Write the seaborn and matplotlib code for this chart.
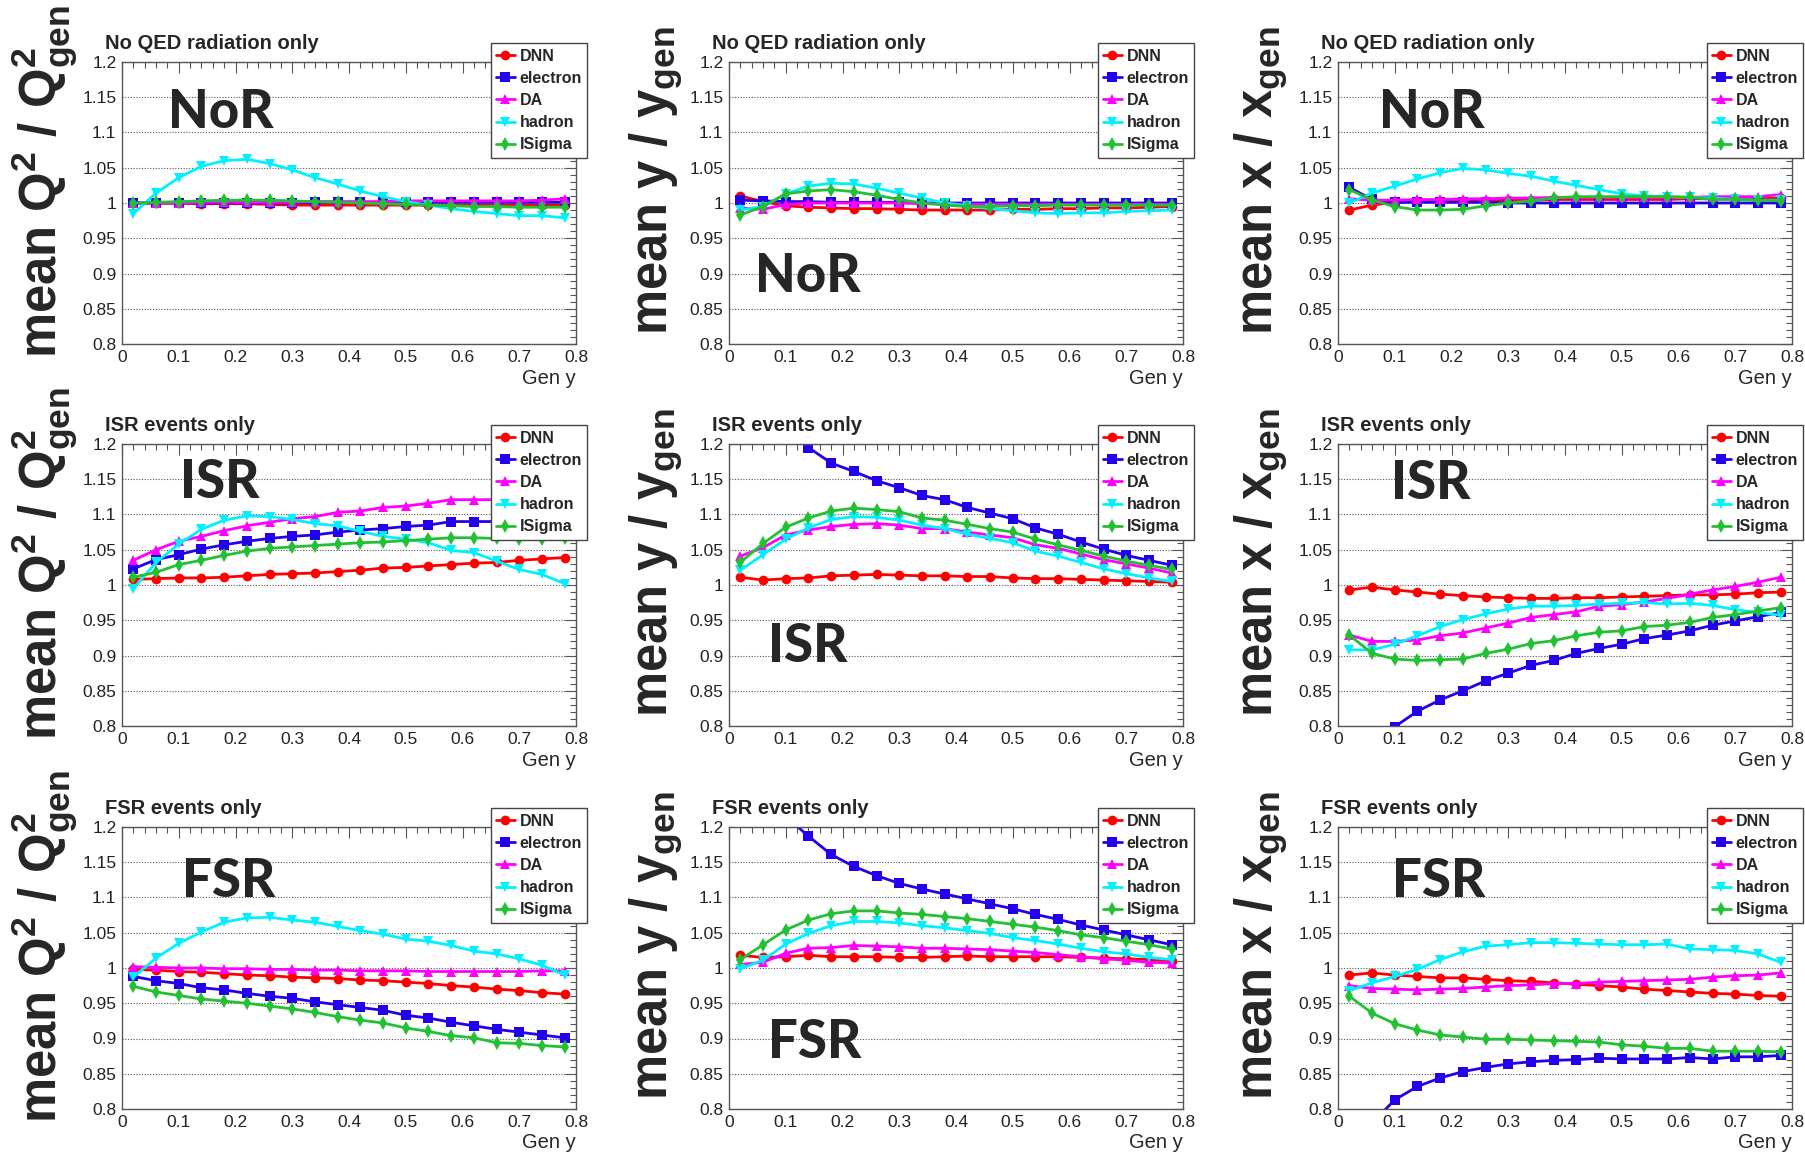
import matplotlib
matplotlib.use("Agg")
import matplotlib.pyplot as plt
import pandas as pd
import seaborn as sns
from matplotlib.lines import Line2D
from matplotlib.ticker import MultipleLocator, FuncFormatter

sns.set_theme(style="white")
plt.rcParams['font.family'] = ['Liberation Sans', 'DejaVu Sans']
plt.rcParams['mathtext.fontset'] = 'custom'
plt.rcParams['mathtext.rm'] = 'Liberation Sans:bold'
plt.rcParams['mathtext.it'] = 'Liberation Sans:bold'
plt.rcParams['mathtext.bf'] = 'Liberation Sans:bold'

# bin centres of generated y
gen_y = [0.02, 0.06, 0.10, 0.14, 0.18, 0.22, 0.26, 0.30, 0.34, 0.38,
         0.42, 0.46, 0.50, 0.54, 0.58, 0.62, 0.66, 0.70, 0.74, 0.78]

methods = ["DNN", "electron", "DA", "hadron", "ISigma"]
colors = ["#ff0000", "#2200ee", "#ff00ff", "#00f0ff", "#22c033"]
markers = ["o", "s", "^", "v", "d"]

# ---- No QED radiation ----
q2_nor = {
    "DNN":      [1.000, 1.000, 1.000, 0.999, 0.999, 0.999, 0.998, 0.997, 0.997, 0.997, 0.997, 0.997, 0.997, 0.997, 0.997, 0.997, 0.997, 0.997, 0.997, 0.997],
    "electron": [1.000, 1.000, 1.000, 1.000, 1.000, 1.000, 1.000, 1.000, 1.001, 1.001, 1.001, 1.001, 1.001, 1.001, 1.001, 1.001, 1.001, 1.001, 1.001, 1.001],
    "DA":       [1.000, 1.000, 1.000, 1.001, 1.001, 1.001, 1.001, 1.001, 1.002, 1.002, 1.002, 1.002, 1.003, 1.003, 1.003, 1.003, 1.003, 1.003, 1.004, 1.006],
    "hadron":   [0.985, 1.014, 1.036, 1.052, 1.060, 1.062, 1.056, 1.047, 1.036, 1.027, 1.017, 1.009, 1.002, 0.997, 0.992, 0.988, 0.985, 0.982, 0.982, 0.979],
    "ISigma":   [1.000, 1.001, 1.002, 1.003, 1.004, 1.004, 1.004, 1.003, 1.002, 1.001, 1.000, 0.999, 0.998, 0.997, 0.996, 0.995, 0.995, 0.994, 0.994, 0.994],
}
y_nor = {
    "DNN":      [1.010, 1.002, 0.996, 0.994, 0.993, 0.992, 0.992, 0.991, 0.990, 0.990, 0.990, 0.990, 0.991, 0.991, 0.992, 0.992, 0.993, 0.993, 0.994, 0.995],
    "electron": [1.004, 1.003, 1.002, 1.002, 1.001, 1.001, 1.001, 1.001, 1.000, 1.000, 1.000, 1.000, 1.000, 1.000, 1.000, 1.000, 1.000, 1.000, 1.000, 1.000],
    "DA":       [0.993, 0.991, 0.998, 1.000, 1.000, 1.000, 1.000, 1.000, 0.999, 0.999, 0.998, 0.998, 0.998, 0.998, 0.998, 0.998, 0.998, 0.998, 0.998, 0.998],
    "hadron":   [0.990, 0.995, 1.013, 1.024, 1.028, 1.027, 1.021, 1.014, 1.007, 1.000, 0.996, 0.992, 0.989, 0.986, 0.985, 0.986, 0.986, 0.988, 0.989, 0.990],
    "ISigma":   [0.983, 0.995, 1.013, 1.017, 1.019, 1.016, 1.011, 1.005, 1.000, 0.997, 0.995, 0.995, 0.996, 0.996, 0.997, 0.997, 0.997, 0.997, 0.997, 0.997],
}
x_nor = {
    "DNN":      [0.990, 0.997, 1.001, 1.002, 1.003, 1.003, 1.003, 1.004, 1.004, 1.005, 1.005, 1.005, 1.005, 1.005, 1.005, 1.006, 1.006, 1.006, 1.006, 1.007],
    "electron": [1.022, 1.005, 1.001, 1.001, 1.001, 1.001, 1.001, 1.000, 1.000, 1.000, 1.000, 1.000, 1.000, 1.000, 1.000, 1.000, 1.000, 1.000, 1.000, 1.000],
    "DA":       [1.006, 1.004, 1.004, 1.005, 1.005, 1.006, 1.006, 1.007, 1.007, 1.008, 1.008, 1.008, 1.008, 1.008, 1.008, 1.008, 1.009, 1.009, 1.009, 1.012],
    "hadron":   [1.000, 1.014, 1.024, 1.034, 1.043, 1.049, 1.047, 1.042, 1.038, 1.031, 1.025, 1.019, 1.013, 1.010, 1.009, 1.008, 1.007, 1.005, 1.004, 1.004],
    "ISigma":   [1.019, 1.004, 0.995, 0.990, 0.990, 0.991, 0.996, 1.000, 1.003, 1.007, 1.009, 1.009, 1.009, 1.009, 1.009, 1.008, 1.005, 1.005, 1.004, 1.003],
}

# ---- ISR events ----
q2_isr = {
    "DNN":      [1.008, 1.009, 1.010, 1.010, 1.011, 1.013, 1.015, 1.016, 1.017, 1.019, 1.021, 1.024, 1.025, 1.027, 1.029, 1.031, 1.032, 1.035, 1.037, 1.039],
    "electron": [1.023, 1.036, 1.043, 1.051, 1.057, 1.062, 1.066, 1.069, 1.071, 1.075, 1.078, 1.080, 1.083, 1.085, 1.090, 1.090, 1.090, 1.089, 1.088, 1.088],
    "DA":       [1.035, 1.050, 1.062, 1.069, 1.077, 1.084, 1.089, 1.094, 1.097, 1.103, 1.105, 1.110, 1.112, 1.116, 1.121, 1.121, 1.121, 1.120, 1.120, 1.120],
    "hadron":   [0.995, 1.032, 1.058, 1.079, 1.092, 1.098, 1.097, 1.093, 1.087, 1.084, 1.076, 1.069, 1.065, 1.060, 1.049, 1.046, 1.034, 1.022, 1.015, 1.002],
    "ISigma":   [1.011, 1.018, 1.029, 1.035, 1.042, 1.048, 1.052, 1.054, 1.056, 1.058, 1.060, 1.061, 1.063, 1.065, 1.067, 1.067, 1.066, 1.065, 1.065, 1.066],
}
y_isr = {
    "DNN":      [1.011, 1.007, 1.009, 1.010, 1.013, 1.014, 1.015, 1.014, 1.013, 1.013, 1.012, 1.012, 1.010, 1.009, 1.009, 1.008, 1.007, 1.006, 1.005, 1.004],
    "electron": [1.320, 1.265, 1.220, 1.195, 1.173, 1.161, 1.148, 1.138, 1.127, 1.121, 1.110, 1.102, 1.094, 1.081, 1.072, 1.061, 1.051, 1.042, 1.035, 1.028],
    "DA":       [1.041, 1.053, 1.071, 1.078, 1.083, 1.086, 1.087, 1.085, 1.080, 1.080, 1.075, 1.071, 1.067, 1.057, 1.052, 1.044, 1.036, 1.030, 1.024, 1.017],
    "hadron":   [1.021, 1.043, 1.065, 1.081, 1.093, 1.097, 1.096, 1.092, 1.085, 1.080, 1.072, 1.066, 1.060, 1.048, 1.041, 1.032, 1.023, 1.016, 1.010, 1.005],
    "ISigma":   [1.032, 1.059, 1.082, 1.095, 1.105, 1.109, 1.107, 1.104, 1.095, 1.092, 1.086, 1.080, 1.075, 1.065, 1.057, 1.049, 1.041, 1.034, 1.028, 1.022],
}
x_isr = {
    "DNN":      [0.993, 0.997, 0.993, 0.990, 0.987, 0.985, 0.983, 0.982, 0.981, 0.981, 0.982, 0.982, 0.983, 0.984, 0.985, 0.986, 0.986, 0.987, 0.989, 0.990],
    "electron": [0.750, 0.775, 0.799, 0.821, 0.837, 0.850, 0.864, 0.875, 0.886, 0.893, 0.903, 0.910, 0.916, 0.924, 0.929, 0.935, 0.943, 0.949, 0.955, 0.961],
    "DA":       [0.929, 0.920, 0.920, 0.922, 0.928, 0.932, 0.939, 0.946, 0.954, 0.958, 0.962, 0.970, 0.972, 0.976, 0.981, 0.987, 0.993, 0.998, 1.004, 1.011],
    "hadron":   [0.908, 0.908, 0.916, 0.928, 0.941, 0.951, 0.959, 0.966, 0.970, 0.970, 0.971, 0.973, 0.974, 0.975, 0.973, 0.974, 0.971, 0.965, 0.961, 0.957],
    "ISigma":   [0.929, 0.903, 0.895, 0.893, 0.894, 0.895, 0.903, 0.909, 0.917, 0.921, 0.928, 0.933, 0.935, 0.941, 0.943, 0.947, 0.954, 0.958, 0.963, 0.968],
}

# ---- FSR events ----
q2_fsr = {
    "DNN":      [0.998, 0.997, 0.995, 0.994, 0.992, 0.990, 0.989, 0.987, 0.986, 0.985, 0.983, 0.982, 0.980, 0.978, 0.975, 0.973, 0.970, 0.968, 0.965, 0.963],
    "electron": [0.988, 0.982, 0.978, 0.972, 0.969, 0.964, 0.960, 0.957, 0.952, 0.948, 0.944, 0.940, 0.933, 0.929, 0.923, 0.918, 0.913, 0.909, 0.905, 0.901],
    "DA":       [1.002, 1.001, 1.000, 1.000, 0.999, 0.999, 0.998, 0.998, 0.997, 0.997, 0.996, 0.996, 0.996, 0.995, 0.995, 0.995, 0.995, 0.995, 0.996, 0.996],
    "hadron":   [0.987, 1.014, 1.035, 1.051, 1.065, 1.071, 1.072, 1.068, 1.065, 1.059, 1.053, 1.048, 1.041, 1.038, 1.032, 1.024, 1.020, 1.013, 1.004, 0.990],
    "ISigma":   [0.974, 0.966, 0.961, 0.956, 0.953, 0.950, 0.946, 0.942, 0.937, 0.931, 0.926, 0.922, 0.915, 0.910, 0.904, 0.901, 0.894, 0.893, 0.890, 0.888],
}
y_fsr = {
    "DNN":      [1.018, 1.015, 1.016, 1.018, 1.016, 1.016, 1.016, 1.015, 1.015, 1.016, 1.017, 1.016, 1.016, 1.016, 1.016, 1.015, 1.014, 1.013, 1.012, 1.010],
    "electron": [1.310, 1.262, 1.215, 1.187, 1.161, 1.144, 1.131, 1.120, 1.112, 1.105, 1.098, 1.091, 1.084, 1.076, 1.069, 1.061, 1.054, 1.047, 1.040, 1.033],
    "DA":       [1.005, 1.008, 1.021, 1.028, 1.029, 1.032, 1.031, 1.030, 1.028, 1.028, 1.027, 1.026, 1.024, 1.022, 1.019, 1.016, 1.013, 1.011, 1.008, 1.007],
    "hadron":   [0.999, 1.011, 1.034, 1.049, 1.060, 1.066, 1.066, 1.064, 1.060, 1.057, 1.053, 1.049, 1.043, 1.039, 1.034, 1.028, 1.023, 1.020, 1.015, 1.012],
    "ISigma":   [1.012, 1.033, 1.054, 1.068, 1.077, 1.081, 1.081, 1.078, 1.076, 1.073, 1.070, 1.066, 1.062, 1.058, 1.053, 1.047, 1.043, 1.038, 1.033, 1.027],
}
x_fsr = {
    "DNN":      [0.990, 0.993, 0.990, 0.988, 0.986, 0.986, 0.984, 0.982, 0.981, 0.979, 0.977, 0.975, 0.973, 0.970, 0.968, 0.966, 0.964, 0.963, 0.961, 0.960],
    "electron": [0.740, 0.780, 0.813, 0.832, 0.844, 0.853, 0.859, 0.864, 0.867, 0.869, 0.870, 0.872, 0.871, 0.871, 0.871, 0.873, 0.871, 0.874, 0.874, 0.876],
    "DA":       [0.975, 0.971, 0.970, 0.969, 0.970, 0.971, 0.973, 0.975, 0.976, 0.978, 0.978, 0.980, 0.981, 0.982, 0.983, 0.984, 0.987, 0.989, 0.990, 0.993],
    "hadron":   [0.968, 0.979, 0.988, 0.998, 1.012, 1.023, 1.031, 1.033, 1.036, 1.036, 1.035, 1.034, 1.033, 1.033, 1.034, 1.027, 1.026, 1.025, 1.020, 1.008],
    "ISigma":   [0.960, 0.936, 0.921, 0.912, 0.905, 0.902, 0.899, 0.899, 0.898, 0.897, 0.896, 0.895, 0.891, 0.889, 0.886, 0.886, 0.882, 0.882, 0.882, 0.881],
}

row_titles = ["No QED radiation only", "ISR events only", "FSR events only"]
row_tags = ["NoR", "ISR", "FSR"]
col_labels = [r"mean Q$^{2}$ / Q$^{2}_{gen}$", r"mean y / y$_{gen}$", r"mean x / x$_{gen}$"]
panels = [[q2_nor, y_nor, x_nor],
          [q2_isr, y_isr, x_isr],
          [q2_fsr, y_fsr, x_fsr]]

# where the big tag sits inside each panel (axes fraction, baseline)
tag_pos = [[(0.101, 0.766), (0.057, 0.184), (0.090, 0.766)],
           [(0.128, 0.809), (0.086, 0.227), (0.117, 0.805)],
           [(0.132, 0.752), (0.086, 0.181), (0.120, 0.752)]]

W, H = 1805, 1156
fig = plt.figure(figsize=(W / 100, H / 100), dpi=100)

col_left = [122, 729, 1338]
row_top = [62, 444, 827]
ax_w, ax_h = 454, 282
lab_x = [44, 656, 1261]

fmt = FuncFormatter(lambda v, p: f"{v:g}")

for r in range(3):
    for c in range(3):
        ax = fig.add_axes([col_left[c] / W, 1 - (row_top[r] + ax_h) / H, ax_w / W, ax_h / H])
        d = panels[r][c]
        df = pd.DataFrame({
            "gen_y": gen_y * len(methods),
            "ratio": [v for m in methods for v in d[m]],
            "method": [m for m in methods for _ in gen_y],
        })
        sns.lineplot(data=df, x="gen_y", y="ratio", hue="method", style="method",
                     hue_order=methods, style_order=methods,
                     palette=dict(zip(methods, colors)), markers=dict(zip(methods, markers)),
                     dashes=False, linewidth=2.0, markersize=7, markeredgewidth=0,
                     estimator=None, legend=False, ax=ax)

        ax.set_xlim(0, 0.8)
        ax.set_ylim(0.8, 1.2)
        ax.xaxis.set_major_locator(MultipleLocator(0.1))
        ax.xaxis.set_minor_locator(MultipleLocator(0.02))
        ax.yaxis.set_major_locator(MultipleLocator(0.05))
        ax.yaxis.set_minor_locator(MultipleLocator(0.01))
        ax.xaxis.set_major_formatter(fmt)
        ax.yaxis.set_major_formatter(fmt)
        ax.tick_params(which="both", direction="in", top=True, right=True,
                       color="#555555", width=0.8, labelsize=12.5, labelcolor="#222222")
        ax.tick_params(which="major", length=8, pad=4)
        ax.tick_params(which="minor", length=4.5)
        ax.set_xlabel("")
        ax.set_ylabel("")
        ax.yaxis.grid(True, which="major", linestyle=(0, (1, 1.5)), color="#555555", linewidth=0.8)
        ax.xaxis.grid(False)
        for s in ax.spines.values():
            s.set_color("#555555")
            s.set_linewidth(1.0)

        ax.text(-0.0385, 1 + 13 / ax_h, row_titles[r], transform=ax.transAxes,
                fontsize=14.5, fontweight="bold", va="baseline", ha="left")
        ax.text(1.0, -34 / ax_h, "Gen y", transform=ax.transAxes,
                fontsize=14.5, ha="right", va="center")
        tx, ty = tag_pos[r][c]
        ax.text(tx, ty, row_tags[r], transform=ax.transAxes, fontsize=38,
                fontweight="black", family="Lato", va="baseline", ha="left")

        handles = [Line2D([0], [0], color=col, marker=mk, lw=2.0, ms=7, markeredgewidth=0)
                   for col, mk in zip(colors, markers)]
        leg = ax.legend(handles, methods, loc="upper right", bbox_to_anchor=(1.025, 1.067),
                        frameon=True, fancybox=False, edgecolor="#444444", framealpha=1,
                        prop={"weight": "bold", "size": 11.5}, handlelength=1.15,
                        handletextpad=0.3, borderpad=0.35, labelspacing=0.45, borderaxespad=0)
        leg.get_frame().set_linewidth(1.0)

        fig.text(lab_x[c] / W, 1 - (row_top[r] + 119) / H, col_labels[c],
                 rotation=90, ha="center", va="center", fontsize=36.5, fontweight="bold")

fig.savefig("out.png", dpi=100)
